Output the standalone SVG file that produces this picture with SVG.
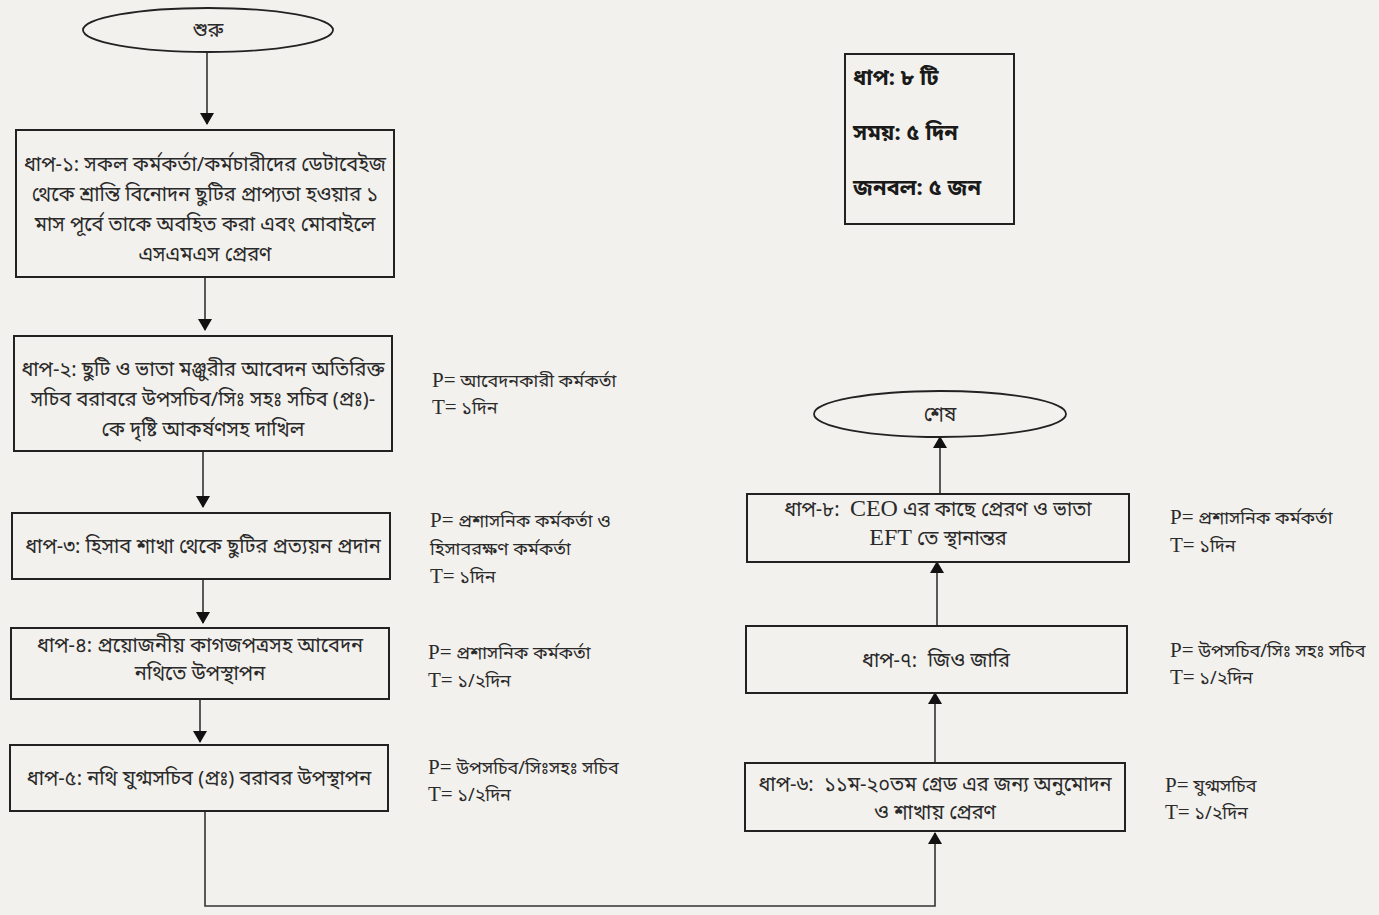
<svg xmlns="http://www.w3.org/2000/svg" width="1379" height="915" viewBox="0 0 1379 915">
<style>
.bg{fill:#f3f1ed}
.box{fill:none;stroke:#222;stroke-width:2}
.term{fill:none;stroke:#222;stroke-width:1.8}
.bn{font-family:"Noto Sans Bengali","Noto Serif Bengali","Lohit Bengali","Noto Sans",sans-serif;font-size:20px;fill:#2a2a2a}
.sd{font-size:18px}
.c{text-anchor:middle}
.lat{font-family:"Liberation Serif",serif;font-size:21px}
.latb{font-family:"Liberation Serif",serif;font-size:24px}
.sum{font-family:"Noto Sans Bengali","Noto Serif Bengali","Lohit Bengali","Noto Sans",sans-serif;font-size:22px;font-weight:bold;fill:#1a1a1a}
.conn{fill:none;stroke:#333;stroke-width:1.6}
</style>
<defs>
<marker id="ah" markerWidth="12" markerHeight="16" refX="11" refY="8" orient="auto" markerUnits="userSpaceOnUse">
<path d="M0,1 L12,8 L0,15 Z" fill="#111"/>
</marker>
</defs>
<rect class="bg" x="0" y="0" width="1379" height="915"/>

<g id="connectors">
<line class="conn" x1="207" y1="53" x2="207" y2="124" marker-end="url(#ah)"/>
<line class="conn" x1="205" y1="278" x2="205" y2="330" marker-end="url(#ah)"/>
<line class="conn" x1="203" y1="452" x2="203" y2="507" marker-end="url(#ah)"/>
<line class="conn" x1="203" y1="580" x2="203" y2="623" marker-end="url(#ah)"/>
<line class="conn" x1="200" y1="700" x2="200" y2="742" marker-end="url(#ah)"/>
<polyline class="conn" points="205,812 205,906 935,906 935,833" marker-end="url(#ah)"/>
<line class="conn" x1="935" y1="763" x2="935" y2="693" marker-end="url(#ah)"/>
<line class="conn" x1="937" y1="626" x2="937" y2="562" marker-end="url(#ah)"/>
<line class="conn" x1="940" y1="494" x2="940" y2="437" marker-end="url(#ah)"/>
</g>

<g id="start">
<ellipse class="term" cx="208" cy="30" rx="125" ry="22"/>
<text class="bn c" x="208" y="37">শুরু</text>
</g>

<g id="step1">
<rect class="box" x="16" y="130" width="378" height="147"/>
<text class="bn c" x="205" y="171">ধাপ-১: সকল কর্মকর্তা/কর্মচারীদের ডেটাবেইজ</text>
<text class="bn c" x="205" y="201">থেকে শ্রান্তি বিনোদন ছুটির প্রাপ্যতা হওয়ার ১</text>
<text class="bn c" x="205" y="231">মাস পূর্বে তাকে অবহিত করা এবং মোবাইলে</text>
<text class="bn c" x="205" y="261">এসএমএস প্রেরণ</text>
</g>

<g id="step2">
<rect class="box" x="14" y="336" width="378" height="115"/>
<text class="bn c" x="203" y="376">ধাপ-২: ছুটি ও ভাতা মঞ্জুরীর আবেদন অতিরিক্ত</text>
<text class="bn c" x="203" y="406">সচিব বরাবরে উপসচিব/সিঃ সহঃ সচিব (প্রঃ)-</text>
<text class="bn c" x="203" y="436">কে দৃষ্টি আকর্ষণসহ দাখিল</text>
</g>
<g id="pt2">
<text class="bn sd" x="432" y="387"><tspan class="lat" font-size="19">P=</tspan> আবেদনকারী কর্মকর্তা</text>
<text class="bn sd" x="432" y="414"><tspan class="lat">T=</tspan> ১দিন</text>
</g>

<g id="step3">
<rect class="box" x="12" y="513" width="378" height="66"/>
<text class="bn c" x="203" y="553">ধাপ-৩: হিসাব শাখা থেকে ছুটির প্রত্যয়ন প্রদান</text>
</g>
<g id="pt3">
<text class="bn sd" x="430" y="527"><tspan class="lat">P=</tspan> প্রশাসনিক কর্মকর্তা ও</text>
<text class="bn sd" x="430" y="555">হিসাবরক্ষণ কর্মকর্তা</text>
<text class="bn sd" x="430" y="583"><tspan class="lat">T=</tspan> ১দিন</text>
</g>

<g id="step4">
<rect class="box" x="11" y="628" width="378" height="71"/>
<text class="bn c" x="200" y="652">ধাপ-৪: প্রয়োজনীয় কাগজপত্রসহ আবেদন</text>
<text class="bn c" x="200" y="680">নথিতে উপস্থাপন</text>
</g>
<g id="pt4">
<text class="bn sd" x="428" y="659"><tspan class="lat">P=</tspan> প্রশাসনিক কর্মকর্তা</text>
<text class="bn sd" x="428" y="687"><tspan class="lat">T=</tspan> ১/২দিন</text>
</g>

<g id="step5">
<rect class="box" x="10" y="745" width="378" height="66"/>
<text class="bn c" x="199" y="785">ধাপ-৫: নথি যুগ্মসচিব (প্রঃ) বরাবর উপস্থাপন</text>
</g>
<g id="pt5">
<text class="bn sd" x="428" y="774"><tspan class="lat">P=</tspan> উপসচিব/সিঃসহঃ সচিব</text>
<text class="bn sd" x="428" y="801"><tspan class="lat">T=</tspan> ১/২দিন</text>
</g>

<g id="step6">
<rect class="box" x="745" y="763" width="380" height="68"/>
<text class="bn c" x="935" y="791" xml:space="preserve">ধাপ-৬:  ১১ম-২০তম গ্রেড এর জন্য অনুমোদন</text>
<text class="bn c" x="935" y="819">ও শাখায় প্রেরণ</text>
</g>
<g id="pt6">
<text class="bn sd" x="1165" y="792"><tspan class="lat">P=</tspan> যুগ্মসচিব</text>
<text class="bn sd" x="1165" y="819"><tspan class="lat">T=</tspan> ১/২দিন</text>
</g>

<g id="step7">
<rect class="box" x="746" y="626" width="381" height="67"/>
<text class="bn c" x="936" y="667" xml:space="preserve">ধাপ-৭:  জিও জারি</text>
</g>
<g id="pt7">
<text class="bn sd" x="1170" y="657"><tspan class="lat">P=</tspan> উপসচিব/সিঃ সহঃ সচিব</text>
<text class="bn sd" x="1170" y="684"><tspan class="lat">T=</tspan> ১/২দিন</text>
</g>

<g id="step8">
<rect class="box" x="747" y="494" width="382" height="68"/>
<text class="bn c" x="938" y="516" xml:space="preserve">ধাপ-৮:  <tspan class="latb">CEO</tspan> এর কাছে প্রেরণ ও ভাতা</text>
<text class="bn c" x="938" y="545"><tspan class="latb">EFT</tspan> তে স্থানান্তর</text>
</g>
<g id="pt8">
<text class="bn sd" x="1170" y="524"><tspan class="lat">P=</tspan> প্রশাসনিক কর্মকর্তা</text>
<text class="bn sd" x="1170" y="552"><tspan class="lat">T=</tspan> ১দিন</text>
</g>

<g id="end">
<ellipse class="term" cx="940" cy="414" rx="126" ry="23"/>
<text class="bn c" x="940" y="421">শেষ</text>
</g>

<g id="summary">
<rect class="box" x="845" y="54" width="169" height="170"/>
<text class="sum" x="853" y="85">ধাপ: ৮ টি</text>
<text class="sum" x="853" y="140">সময়: ৫ দিন</text>
<text class="sum" x="853" y="195">জনবল: ৫ জন</text>
</g>
</svg>
